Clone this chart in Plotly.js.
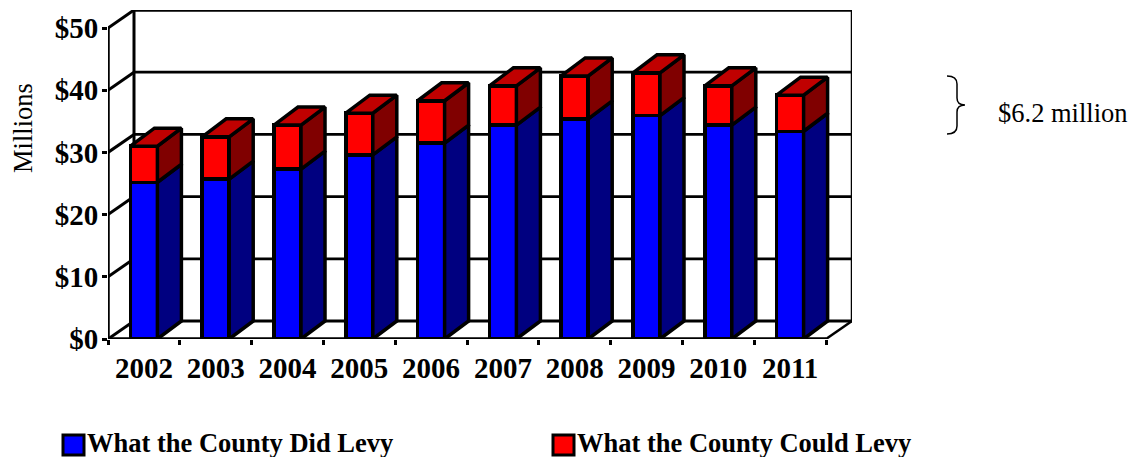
<!DOCTYPE html>
<html>
<head>
<meta charset="utf-8">
<script src="https://cdn.plot.ly/plotly-3.0.1.min.js"></script>
<style>html,body{margin:0;padding:0;background:#fff}</style>
</head>
<body>
<div id="chart" style="width:1136px;height:457px"></div>
<script>
var years = ['2002','2003','2004','2005','2006','2007','2008','2009','2010','2011'];
var didLevy = [25.2,25.7,27.3,29.6,31.5,34.4,35.4,35.9,34.4,33.4];
var couldLevy = [5.8,6.8,7.1,6.7,6.8,6.3,6.9,6.9,6.3,5.8];
var yTicks = [0,10,20,30,40,50];

var PL = 108, PR = 852, PT = 10, PB = 339;
var unitX = 71.8, unitY = 6.22;
var depthX = (PR - PL) / unitX - years.length;
var depthY = 18 / unitY;
var barDepthX = 24 / unitX;
var barWidth = 27 / unitX;
var n = years.length;
var centers = years.map(function (_, i) { return i + 0.5; });
var serif = 'Liberation Serif, Times New Roman, serif';

function poly(list) {
  var xs = [], ys = [];
  list.forEach(function (p) {
    p.forEach(function (q) { xs.push(q[0]); ys.push(q[1]); });
    xs.push(p[0][0]); ys.push(p[0][1]);
    xs.push(null); ys.push(null);
  });
  return {x: xs, y: ys};
}
var sideLow = [], sideHigh = [], tops = [];
centers.forEach(function (c, i) {
  var x0 = c - barWidth / 2, x1 = c + barWidth / 2;
  var a = didLevy[i], b = didLevy[i] + couldLevy[i];
  sideLow.push([[x1,0],[x1+barDepthX,depthY],[x1+barDepthX,a+depthY],[x1,a]]);
  sideHigh.push([[x1,a],[x1+barDepthX,a+depthY],[x1+barDepthX,b+depthY],[x1,b]]);
  tops.push([[x0,b],[x0+barDepthX,b+depthY],[x1+barDepthX,b+depthY],[x1,b]]);
});
function faceTrace(list, color) {
  var p = poly(list);
  return {type:'scatter', mode:'lines', x:p.x, y:p.y, fill:'toself', fillcolor:color,
    line:{color:'#000', width:3.5}, hoverinfo:'skip', showlegend:false, cliponaxis:false};
}
function frameTrace(xs, ys, w) {
  return {type:'scatter', mode:'lines', x:xs, y:ys, line:{color:'#000', width:w},
    hoverinfo:'skip', showlegend:false, cliponaxis:false};
}
var traces = [
  {type:'bar', name:'What the County Did Levy', x:centers, y:didLevy, width:barWidth,
   marker:{color:'#0000FF', line:{color:'#000', width:3.5}}, cliponaxis:false, showlegend:false},
  {type:'bar', name:'What the County Could Levy', x:centers, y:couldLevy, width:barWidth,
   marker:{color:'#FF0000', line:{color:'#000', width:3.5}}, cliponaxis:false, showlegend:false},
  faceTrace(sideLow, '#000080'),
  faceTrace(sideHigh, '#800000'),
  faceTrace(tops, '#C00000'),
  frameTrace([0,0],[0,50],3.5),
  frameTrace([0,n],[0,0],3.5),
  frameTrace([0,depthX],[50,50+depthY],3),
  frameTrace([depthX,n+depthX],[50+depthY,50+depthY],3.5),
  frameTrace([n+depthX,n+depthX],[50+depthY,depthY],2.5),
  frameTrace([n,n+depthX],[0,depthY],2.5)
];

var shapes = [];
function dataLine(x0,y0,x1,y1,w) {
  shapes.push({type:'line', layer:'below', xref:'x', yref:'y', x0:x0, y0:y0, x1:x1, y1:y1,
    line:{color:'#000', width:w}});
}
yTicks.forEach(function (v) {
  if (v < 50) dataLine(depthX, v + depthY, n + depthX, v + depthY, 2.8);
  if (v < 50) dataLine(0, v, depthX, v + depthY, 3);
});
dataLine(depthX, depthY, depthX, 50 + depthY, 3);

function pxX(p) { return (p - PL) / (PR - PL); }
function pxY(p) { return (PB - p) / (PB - PT); }
function swatch(x0, x1, y0, y1, color) {
  shapes.push({type:'rect', xref:'paper', yref:'paper', x0:pxX(x0), x1:pxX(x1), y0:pxY(y1), y1:pxY(y0),
    fillcolor:color, line:{color:'#000', width:3}});
}
swatch(63, 84, 435, 455, '#0000FF');
swatch(553, 574, 435, 455, '#FF0000');

// brace beside the chart
var bx = function (p) { return pxX(p).toFixed(5); };
var by = function (p) { return pxY(p).toFixed(5); };
shapes.push({type:'path', xref:'paper', yref:'paper', line:{color:'#000', width:1.5},
  path:'M'+bx(947)+','+by(76)+' Q'+bx(957)+','+by(76)+' '+bx(957)+','+by(84)+
       ' L'+bx(957)+','+by(98)+' Q'+bx(957)+','+by(105)+' '+bx(965)+','+by(105)+
       ' Q'+bx(957)+','+by(105)+' '+bx(957)+','+by(112)+
       ' L'+bx(957)+','+by(126)+' Q'+bx(957)+','+by(134)+' '+bx(947)+','+by(134)});

var annotations = [
  {xref:'paper', yref:'paper', x:pxX(84.5), y:pxY(443), xanchor:'left', yanchor:'middle', showarrow:false,
   text:'<b>What the County Did Levy</b>', font:{family:serif, size:26.5, color:'#000'}},
  {xref:'paper', yref:'paper', x:pxX(574.5), y:pxY(443), xanchor:'left', yanchor:'middle', showarrow:false,
   text:'<b>What the County Could Levy</b>', font:{family:serif, size:26.5, color:'#000'}},
  {xref:'paper', yref:'paper', x:pxX(996), y:pxY(113), xanchor:'left', yanchor:'middle', showarrow:false,
   text:'$6.2 million', font:{family:serif, size:26.5, color:'#000'}},
  {xref:'paper', yref:'paper', x:pxX(23), y:pxY(128), xanchor:'center', yanchor:'middle', showarrow:false,
   textangle:-90, text:'Millions', font:{family:serif, size:26.5, color:'#000'}}
];

var boundaries = [];
for (var i = 0; i <= n; i++) boundaries.push(i);

var layout = {
  width:1136, height:457, barmode:'stack', showlegend:false,
  paper_bgcolor:'#fff', plot_bgcolor:'rgba(0,0,0,0)',
  margin:{l:PL, r:1136-PR, t:PT, b:457-PB, pad:0},
  font:{family:serif, color:'#000'},
  xaxis:{type:'linear', range:[0, n+depthX], showgrid:false, zeroline:false, showline:false,
    tickmode:'array', tickvals:centers, ticktext:years, ticks:'outside', ticklen:3, tickcolor:'rgba(0,0,0,0)',
    tickfont:{family:serif, size:29, color:'#000', weight:'bold'},
    minor:{tickmode:'array', tickvals:boundaries, ticks:'outside', ticklen:5, tickwidth:3, tickcolor:'#000', showgrid:false}},
  yaxis:{range:[0, 50+depthY], showgrid:false, zeroline:false, showline:false,
    tickmode:'array', tickvals:yTicks, ticktext:yTicks.map(function (v) { return '$' + v; }),
    ticks:'outside', ticklen:5, tickwidth:3, tickcolor:'#000', ticklabelstandoff:-2,
    tickfont:{family:serif, size:29, color:'#000', weight:'bold'}},
  shapes:shapes, annotations:annotations
};
Plotly.newPlot('chart', traces, layout, {displayModeBar:false, staticPlot:true});
</script>
</body>
</html>
